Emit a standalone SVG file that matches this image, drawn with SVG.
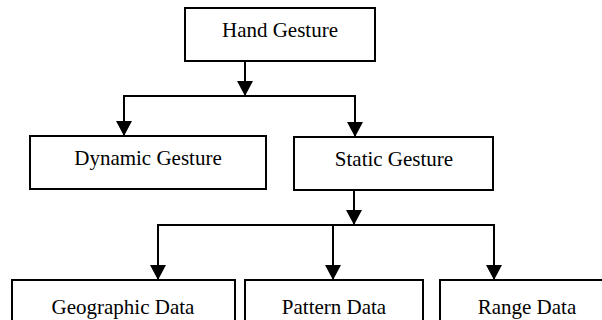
<svg xmlns="http://www.w3.org/2000/svg" width="602" height="320" viewBox="0 0 602 320">
  <style>
    .box { fill: #ffffff; stroke: #000000; stroke-width: 2; }
    .label { font-family: "Liberation Serif", "Times New Roman", serif; font-size: 21px; fill: #000000; text-anchor: middle; }
    .wire { fill: none; stroke: #000000; stroke-width: 2; }
  </style>
  <defs>
    <marker id="arrow" markerUnits="userSpaceOnUse" markerWidth="16" markerHeight="16" refX="15" refY="8" orient="auto">
      <path d="M0,0 L15,8 L0,16 Z" fill="#000000"/>
    </marker>
  </defs>
  <rect width="602" height="320" fill="#ffffff"/>

  <g id="connectors">
    <!-- root to first split -->
    <line class="wire" x1="245" y1="61" x2="245" y2="96" marker-end="url(#arrow)"/>
    <line class="wire" x1="123" y1="96" x2="356" y2="96"/>
    <line class="wire" x1="124" y1="96" x2="124" y2="136" marker-end="url(#arrow)"/>
    <line class="wire" x1="355" y1="96" x2="355" y2="137" marker-end="url(#arrow)"/>
    <!-- static gesture to data types -->
    <line class="wire" x1="354" y1="190" x2="354" y2="225" marker-end="url(#arrow)"/>
    <line class="wire" x1="157" y1="225" x2="495" y2="225"/>
    <line class="wire" x1="158" y1="225" x2="158" y2="280" marker-end="url(#arrow)"/>
    <line class="wire" x1="333" y1="225" x2="333" y2="280" marker-end="url(#arrow)"/>
    <line class="wire" x1="494" y1="225" x2="494" y2="280" marker-end="url(#arrow)"/>
  </g>

  <g id="hand-gesture">
    <rect class="box" x="185" y="8" width="190" height="53"/>
    <text class="label" x="280" y="37">Hand Gesture</text>
  </g>
  <g id="dynamic-gesture">
    <rect class="box" x="30" y="136" width="236" height="53"/>
    <text class="label" x="148" y="165">Dynamic Gesture</text>
  </g>
  <g id="static-gesture">
    <rect class="box" x="294" y="137" width="199" height="53"/>
    <text class="label" x="394" y="166">Static Gesture</text>
  </g>
  <g id="geographic-data">
    <rect class="box" x="12" y="280" width="223" height="44"/>
    <text class="label" x="123" y="314">Geographic Data</text>
  </g>
  <g id="pattern-data">
    <rect class="box" x="245" y="280" width="178" height="44"/>
    <text class="label" x="334" y="314">Pattern Data</text>
  </g>
  <g id="range-data">
    <rect class="box" x="440" y="280" width="174" height="44"/>
    <text class="label" x="527" y="314">Range Data</text>
  </g>
</svg>
